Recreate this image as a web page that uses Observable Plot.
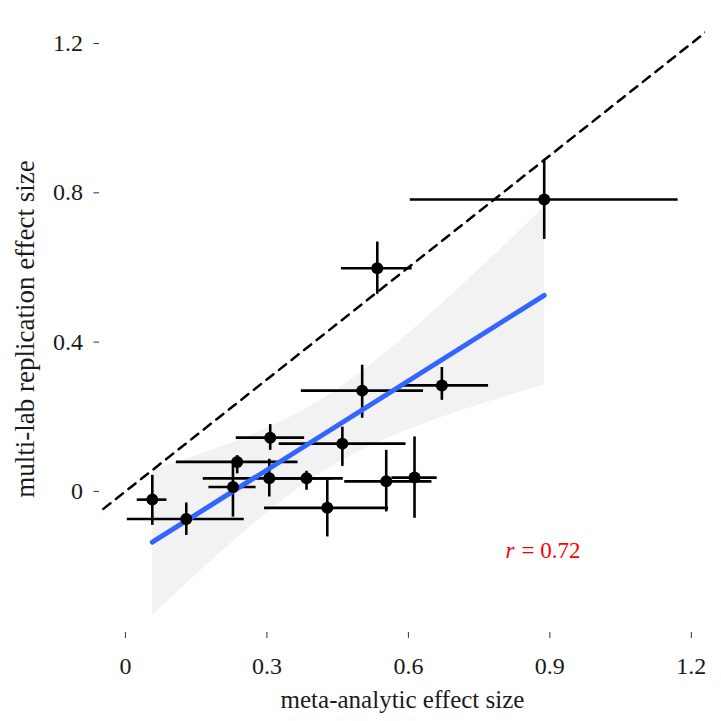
<!DOCTYPE html>
<html>
<head>
<meta charset="utf-8">
<script src="https://cdn.jsdelivr.net/npm/d3@7"></script>
<script src="https://cdn.jsdelivr.net/npm/@observablehq/plot@0.6"></script>
<style>
  html, body { margin: 0; padding: 0; background: white; }
</style>
</head>
<body>
<div id="chart"></div>
<script>
// meta-analytic effect size (x) with interval
const metaX  = [0.057, 0.129, 0.228, 0.237, 0.307, 0.305, 0.384, 0.460, 0.428, 0.553, 0.613, 0.671, 0.502, 0.534, 0.888];
const metaLo = [0.025, 0.004, 0.177, 0.108, 0.235, 0.165, 0.310, 0.326, 0.295, 0.465, 0.565, 0.583, 0.373, 0.458, 0.604];
const metaHi = [0.088, 0.252, 0.277, 0.366, 0.380, 0.440, 0.462, 0.595, 0.558, 0.650, 0.661, 0.770, 0.632, 0.608, 1.172];
// multi-lab replication effect size (y) with interval
const repY  = [-0.022, -0.074, 0.012, 0.079, 0.144, 0.035, 0.035, 0.128, -0.044, 0.027, 0.037, 0.284, 0.270, 0.598, 0.782];
const repLo = [-0.091, -0.118, -0.069, 0.047, 0.110, -0.015, 0.003, 0.067, -0.122, -0.055, -0.072, 0.244, 0.196, 0.528, 0.675];
const repHi = [0.043, -0.031, 0.074, 0.096, 0.179, 0.086, 0.054, 0.172, 0.029, 0.110, 0.146, 0.332, 0.338, 0.668, 0.889];

const xTicks = [0, 0.3, 0.6, 0.9, 1.2];
const yTicks = [0, 0.4, 0.8, 1.2];
const identityLine = [-0.1, 1.35];
const xTitle = "meta-analytic effect size";
const yTitle = "multi-lab replication effect size";
const rSymbol = "r";
const rValue = "= 0.72";
const rPos = {x: 0.827, y: -0.158};

const data = metaX.map((x, i) => ({
  x, xlo: metaLo[i], xhi: metaHi[i],
  y: repY[i], ylo: repLo[i], yhi: repHi[i]
}));

const font = "'Liberation Serif', 'Times New Roman', serif";

const chart = Plot.plot({
  width: 721,
  height: 721,
  marginLeft: 99,
  marginRight: 16,
  marginTop: 15,
  marginBottom: 89,
  style: {fontFamily: font, fontSize: "24px", color: "#1a1a1a", background: "white"},
  x: {domain: [-0.055, 1.23]},
  y: {domain: [-0.378, 1.275]},
  marks: [
    Plot.linearRegressionY(data, {x: "x", y: "y", ci: 0.95, stroke: null, fill: "#f2f2f2", fillOpacity: 1}),
    Plot.line(identityLine, {x: d => d, y: d => d, stroke: "black", strokeWidth: 2.5, strokeDasharray: "9,7", clip: true}),
    Plot.ruleY(data, {y: "y", x1: "xlo", x2: "xhi", stroke: "black", strokeWidth: 2.6}),
    Plot.ruleX(data, {x: "x", y1: "ylo", y2: "yhi", stroke: "black", strokeWidth: 2.6}),
    Plot.linearRegressionY(data, {x: "x", y: "y", ci: 0, stroke: "#3366FF", strokeWidth: 5}),
    Plot.dot(data, {x: "x", y: "y", r: 6, fill: "black", stroke: null}),
    Plot.text([rSymbol], {x: () => rPos.x, y: () => rPos.y, text: d => d, textAnchor: "end", dx: -1, fill: "#ff0000", fontSize: 23, fontStyle: "italic", fontFamily: font}),
    Plot.text([rValue], {x: () => rPos.x, y: () => rPos.y, text: d => d, textAnchor: "start", dx: 6, fill: "#ff0000", fontSize: 23, fontFamily: font}),
    Plot.axisX({ticks: xTicks, tickFormat: d => String(d), tickSize: 6, tickPadding: 18, line: true, label: null, fontSize: 24, fontFamily: font, stroke: "#333"}),
    Plot.axisY({ticks: yTicks, tickFormat: d => String(d), tickSize: 5.5, tickPadding: 11, line: true, label: null, fontSize: 24, fontFamily: font, stroke: "#333"}),
    Plot.text([xTitle], {frameAnchor: "bottom", text: d => d, textAnchor: "middle", lineAnchor: "middle", dy: 67, fontSize: 25, fontFamily: font, fill: "#1a1a1a"}),
    Plot.text([yTitle], {frameAnchor: "left", text: d => d, rotate: -90, textAnchor: "middle", lineAnchor: "middle", dx: -74, dy: 5, fontSize: 27, fontFamily: font, fill: "#1a1a1a"})
  ]
});

document.getElementById("chart").appendChild(chart);
</script>
</body>
</html>
